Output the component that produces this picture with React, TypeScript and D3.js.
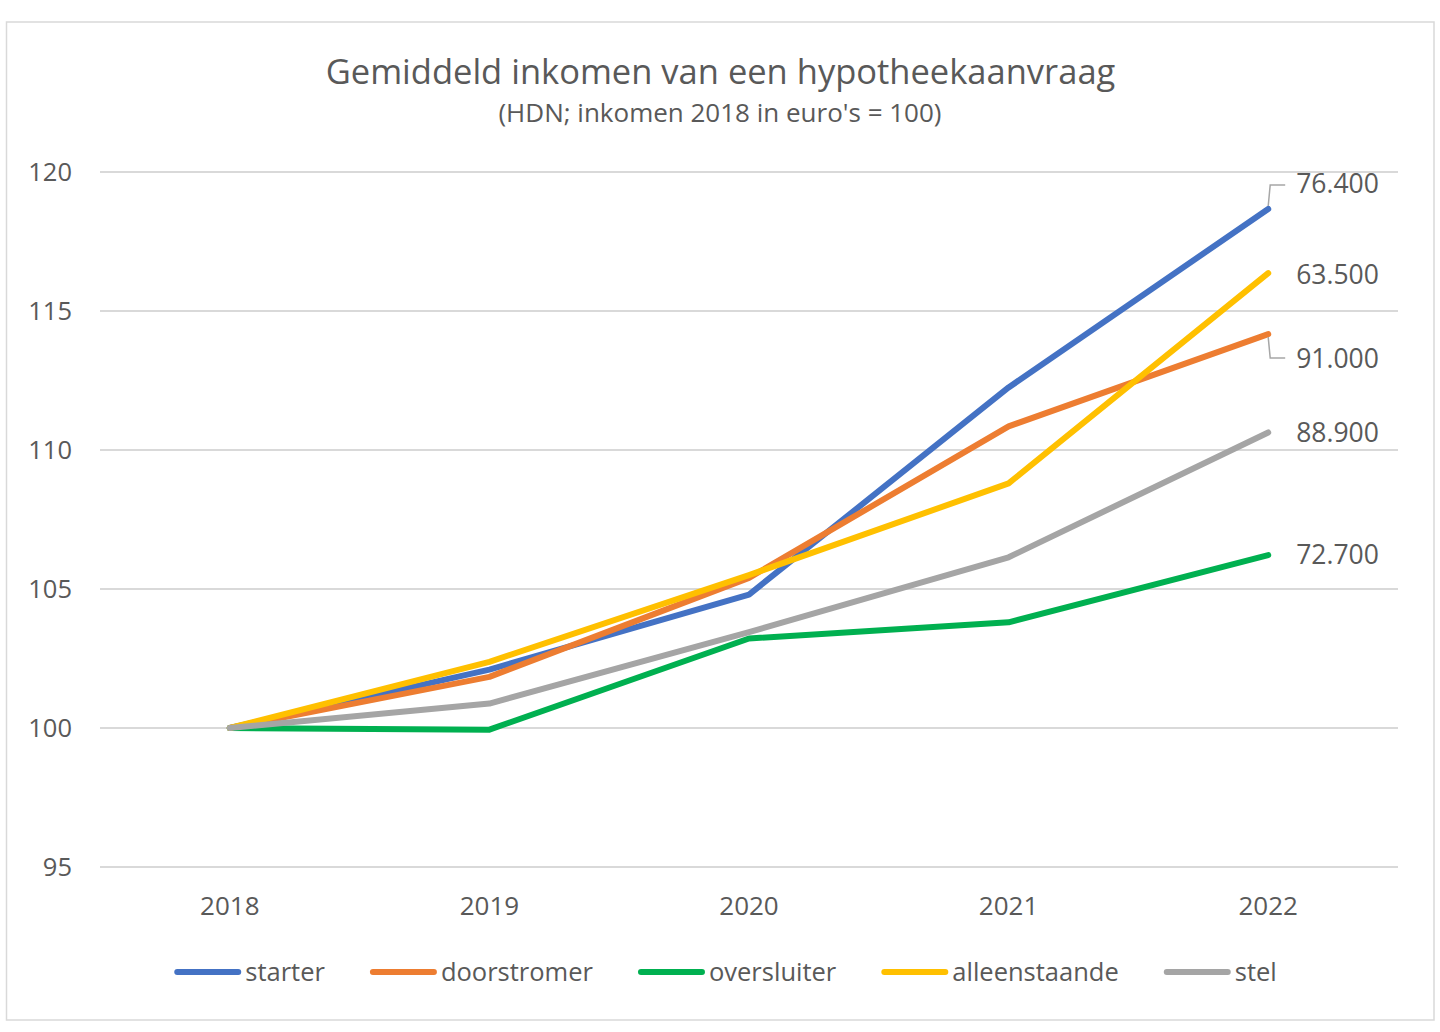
import React, { useEffect, useRef } from "react";
import * as d3 from "d3";

const years = ["2018", "2019", "2020", "2021", "2022"];
const seriesNames = ["starter", "doorstromer", "oversluiter", "alleenstaande", "stel"];
const starter = [100, 102.1, 104.8, 112.25, 118.67];
const doorstromer = [100, 101.84, 105.4, 110.85, 114.17];
const oversluiter = [100, 99.94, 103.22, 103.8, 106.22];
const alleenstaande = [100, 102.38, 105.5, 108.8, 116.36];
const stel = [100, 100.88, 103.45, 106.14, 110.63];
const endIncome = [76400, 91000, 72700, 63500, 88900];
const yTicks = [95, 100, 105, 110, 115, 120];
const colors = ["#4472C4", "#ED7D31", "#00B050", "#FFC000", "#A5A5A5"];

const title = "Gemiddeld inkomen van een hypotheekaanvraag";
const subtitle = "(HDN; inkomen 2018 in euro's = 100)";

// layout: vertical label shifts (px) for the end labels that Excel moved
const LABEL_SHIFT = [-25, 25, 0, 2, 0];

export default function App() {
  const ref = useRef<SVGSVGElement | null>(null);

  useEffect(() => {
    const svg = d3.select(ref.current);
    svg.selectAll("*").remove();
    const W = 1440, H = 1032;
    const font = "'Open Sans', sans-serif";
    const txt = "#595959";
    const left = 100, right = 1398, top = 172, bottom = 867;

    svg.append("rect").attr("x", 0).attr("y", 0).attr("width", W).attr("height", H).attr("fill", "#fff");
    svg.append("rect").attr("x", 6.5).attr("y", 22).attr("width", 1427.5).attr("height", 998)
      .attr("fill", "#fff").attr("stroke", "#d9d9d9").attr("stroke-width", 1.5);

    const x = d3.scaleBand<string>().domain(years).range([left, right]);
    const cx = (yr: string) => (x(yr) as number) + x.bandwidth() / 2;
    const y = d3.scaleLinear().domain([95, 120]).range([bottom, top]);

    svg.append("text").attr("x", 720.5).attr("y", 84).attr("text-anchor", "middle")
      .attr("font-family", font).attr("font-size", 34.5).attr("fill", txt).text(title);
    svg.append("text").attr("x", 720).attr("y", 122).attr("text-anchor", "middle")
      .attr("font-family", font).attr("font-size", 26).attr("fill", txt).text(subtitle);

    const grid = svg.append("g");
    yTicks.forEach((t) => {
      grid.append("line").attr("x1", left).attr("x2", right).attr("y1", y(t)).attr("y2", y(t))
        .attr("stroke", "#d9d9d9").attr("stroke-width", 2);
      grid.append("text").attr("x", left - 28).attr("y", y(t)).attr("dy", "0.35em")
        .attr("text-anchor", "end").attr("font-family", font).attr("font-size", 25.5)
        .attr("fill", txt).text(String(t));
    });

    years.forEach((yr) => {
      svg.append("text").attr("x", cx(yr)).attr("y", 915).attr("text-anchor", "middle")
        .attr("font-family", font).attr("font-size", 26).attr("fill", txt).text(yr);
    });

    const all = [starter, doorstromer, oversluiter, alleenstaande, stel];
    const line = d3.line<number>().x((_, i) => cx(years[i])).y((v) => y(v));
    all.forEach((vals, i) => {
      svg.append("path").attr("d", line(vals) as string).attr("fill", "none")
        .attr("stroke", colors[i]).attr("stroke-width", 6)
        .attr("stroke-linecap", "round").attr("stroke-linejoin", "round");
    });

    const fmt = (v: number) => d3.format(",")(v).replace(/,/g, ".");
    const lastX = cx(years[years.length - 1]);
    all.forEach((vals, i) => {
      const py = y(vals[vals.length - 1]);
      const ly = py + LABEL_SHIFT[i];
      if (Math.abs(LABEL_SHIFT[i]) > 10) {
        const s = Math.sign(LABEL_SHIFT[i]);
        svg.append("path")
          .attr("d", `M${lastX},${py + s * 3}L${lastX + 2},${ly - s * 1}L${lastX + 17},${ly - s * 1}`)
          .attr("fill", "none").attr("stroke", "#a6a6a6").attr("stroke-width", 1.5);
      }
      svg.append("text").attr("x", lastX + 28).attr("y", ly).attr("dy", "0.35em")
        .attr("font-family", font).attr("font-size", 26.5).attr("fill", txt)
        .text(fmt(endIncome[i]));
    });

    // legend
    const lg = svg.append("g");
    const lineLen = 67, gapText = 4, gapItem = 45, ly = 972;
    let cur = 0;
    const items: { x: number; i: number; w: number }[] = [];
    seriesNames.forEach((n, i) => {
      const t = lg.append("text").attr("font-family", font).attr("font-size", 25.5)
        .attr("fill", txt).attr("y", ly).attr("dy", "0.35em").text(n);
      const w = (t.node() as SVGTextElement).getComputedTextLength();
      items.push({ x: cur, i, w });
      t.attr("x", cur + lineLen + gapText);
      cur += lineLen + gapText + w + gapItem;
    });
    const total = cur - gapItem;
    const off = 725.5 - total / 2;
    lg.attr("transform", `translate(${off},0)`);
    items.forEach((it) => {
      lg.append("line").attr("x1", it.x + 3).attr("x2", it.x + lineLen - 3)
        .attr("y1", ly).attr("y2", ly).attr("stroke", colors[it.i]).attr("stroke-width", 6)
        .attr("stroke-linecap", "round");
    });
  }, []);

  return (
    <svg ref={ref} width={1440} height={1032}
      style={{ position: "absolute", left: 0, top: 0, display: "block" }} />
  );
}
